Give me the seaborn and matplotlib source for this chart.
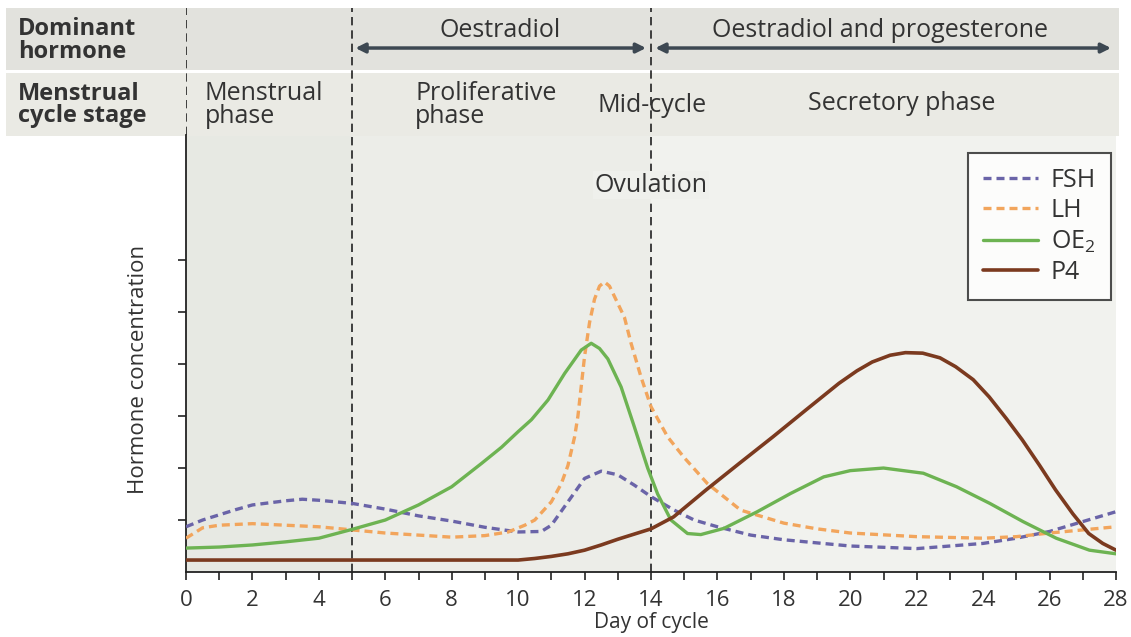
import matplotlib
matplotlib.use("Agg")
import matplotlib.pyplot as plt
import seaborn as sns

# values (day of cycle, relative concentration)
fsh_days = [0, 0.5, 1, 1.5, 2, 3, 3.5, 4, 5, 6, 7, 8, 9, 10, 10.7, 11, 11.5, 12, 12.5,
            13, 13.5, 14, 14.7, 15.3, 16, 17, 18, 20, 22, 24, 25, 26, 27, 28]
fsh_vals = [0.87, 1.0, 1.1, 1.2, 1.29, 1.37, 1.4, 1.38, 1.32, 1.21, 1.08, 0.98, 0.86, 0.77,
            0.78, 0.9, 1.35, 1.8, 1.94, 1.87, 1.67, 1.45, 1.19, 1.0, 0.87, 0.71, 0.62, 0.5,
            0.45, 0.55, 0.65, 0.78, 0.97, 1.16]

lh_days = [0, 0.5, 1, 2, 3, 4, 5, 6, 7, 8, 9, 9.7, 10.2, 10.5, 11, 11.3, 11.5, 11.7, 11.8,
           12, 12.15, 12.3, 12.45, 12.6, 12.75, 12.9, 13.2, 13.4, 13.7, 14, 14.5, 15, 15.7,
           16.7, 18, 19, 20, 22, 24, 25, 26, 27, 28]
lh_vals = [0.65, 0.85, 0.9, 0.93, 0.9, 0.87, 0.81, 0.75, 0.71, 0.67, 0.7, 0.77, 0.9, 1.0,
           1.35, 1.7, 2.05, 2.6, 3.0, 4.15, 4.8, 5.25, 5.5, 5.58, 5.5, 5.3, 4.9, 4.4, 3.75,
           3.18, 2.6, 2.2, 1.7, 1.19, 0.94, 0.83, 0.75, 0.68, 0.65, 0.68, 0.75, 0.81, 0.87]

oe2_days = [0, 1, 2, 3, 4, 5, 6, 7, 8, 8.9, 9.5, 10, 10.4, 10.9, 11.4, 11.9, 12.2, 12.45,
            12.7, 13.1, 13.5, 13.9, 14.2, 14.6, 15.1, 15.5, 16.2, 17.2, 18.2, 19.2, 20, 21,
            22.2, 23.2, 24.2, 25.2, 26.2, 27.2, 28]
oe2_vals = [0.46, 0.48, 0.52, 0.58, 0.65, 0.82, 1.0, 1.29, 1.64, 2.09, 2.4, 2.7, 2.93, 3.31,
            3.82, 4.27, 4.4, 4.3, 4.1, 3.56, 2.79, 2.0, 1.5, 1.0, 0.74, 0.72, 0.84, 1.16,
            1.51, 1.83, 1.95, 2.0, 1.9, 1.64, 1.32, 0.97, 0.65, 0.42, 0.35]

p4_days = [0, 2, 4, 6, 8, 10, 10.5, 11, 11.5, 12, 12.5, 13, 13.5, 14, 14.68, 15.66, 16.66,
           17.67, 18.67, 19.66, 20.2, 20.66, 21.2, 21.66, 22.18, 22.7, 23.17, 23.7, 24.18,
           24.7, 25.18, 25.7, 26.18, 26.7, 27.18, 27.6, 28]
p4_vals = [0.23, 0.23, 0.23, 0.23, 0.23, 0.23, 0.26, 0.3, 0.35, 0.42, 0.52, 0.63, 0.73, 0.83,
           1.06, 1.58, 2.09, 2.6, 3.12, 3.63, 3.87, 4.04, 4.17, 4.22, 4.21, 4.12, 3.95, 3.7,
           3.37, 2.95, 2.54, 2.05, 1.58, 1.12, 0.74, 0.55, 0.42]

day_ticks = list(range(0, 29, 2))
conc_ticks = [1, 2, 3, 4, 5, 6]

sns.set_style("white")
plt.rcParams['font.family'] = ['Open Sans', 'DejaVu Sans']
plt.rcParams['mathtext.fontset'] = 'custom'
plt.rcParams['mathtext.rm'] = 'Open Sans'

txt = '#333333'
hfs = 18  # header / annotation font size
fig = plt.figure(figsize=(11.31, 6.37), dpi=100)
ax = fig.add_axes([186 / 1131, 65 / 637, 930 / 1131, 564 / 637])
ax.set_xlim(0, 28)
ax.set_ylim(0, 10.85)
ax.set_facecolor('white')

# plot background shading
ax.axvspan(0, 5, ymax=8.4 / 10.85, color='#e7e9e3', lw=0, zorder=0)
ax.axvspan(5, 14, ymax=8.4 / 10.85, color='#ecede8', lw=0, zorder=0)
ax.axvspan(14, 28, ymax=8.4 / 10.85, color='#f1f2ee', lw=0, zorder=0)

# header bands
ax.add_patch(plt.Rectangle((-5.42, 9.65), 33.5, 1.2, color='#e2e2dd', lw=0, clip_on=False, zorder=1))
ax.add_patch(plt.Rectangle((-5.42, 8.38), 33.5, 1.22, color='#eaeae4', lw=0, clip_on=False, zorder=1))

sns.lineplot(x=fsh_days, y=fsh_vals, ax=ax, color='#6a64a8', lw=2.4,
             linestyle=(0, (2.4, 1.5)), label='FSH', zorder=4)
sns.lineplot(x=lh_days, y=lh_vals, ax=ax, color='#f2a55c', lw=2.4,
             linestyle=(0, (2.4, 1.5)), label='LH', zorder=4)
sns.lineplot(x=oe2_days, y=oe2_vals, ax=ax, color='#6db352', lw=2.4,
             label='OE$_2$', zorder=5)
sns.lineplot(x=p4_days, y=p4_vals, ax=ax, color='#7b3a1f', lw=2.6,
             label='P4', zorder=5)

# phase boundaries
for d in [5, 14]:
    ax.axvline(d, color='#222222', lw=1.2, linestyle=(0, (5, 3)), zorder=3)
ax.vlines(0, 8.4, 10.85, color='#222222', lw=1.2, linestyle=(0, (5, 3)), zorder=3)

ax.text(14, 7.44, 'Ovulation', ha='center', va='center', fontsize=hfs, color=txt, zorder=6,
        bbox=dict(facecolor='#eff0ec', edgecolor='none', pad=1))

# header text
ax.text(-5.06, 10.23, 'Dominant\nhormone', fontsize=17, fontweight='bold', color=txt,
        ha='left', va='center', linespacing=0.92, zorder=6)
ax.text(-5.06, 8.98, 'Menstrual\ncycle stage', fontsize=17, fontweight='bold', color=txt,
        ha='left', va='center', linespacing=0.92, zorder=6)
ax.text(0.57, 8.98, 'Menstrual\nphase', fontsize=hfs, color=txt, ha='left', va='center',
        linespacing=0.92, zorder=6)
ax.text(6.9, 8.98, 'Proliferative\nphase', fontsize=hfs, color=txt, ha='left', va='center',
        linespacing=0.92, zorder=6)
ax.text(12.4, 8.98, 'Mid-cycle', fontsize=hfs, color=txt, ha='left', va='center', zorder=6)
ax.text(18.73, 9.02, 'Secretory phase', fontsize=hfs, color=txt, ha='left', va='center', zorder=6)
ax.text(9.46, 10.42, 'Oestradiol', fontsize=hfs, color=txt, ha='center', va='center', zorder=6)
ax.text(20.9, 10.42, 'Oestradiol and progesterone', fontsize=hfs, color=txt, ha='center',
        va='center', zorder=6)
arrow = dict(arrowstyle='<|-|>', color='#3d4852', lw=2.5, mutation_scale=14, shrinkA=0, shrinkB=0)
ax.annotate('', xy=(13.85, 10.08), xytext=(5.1, 10.08), arrowprops=arrow, annotation_clip=False, zorder=6)
ax.annotate('', xy=(27.85, 10.08), xytext=(14.13, 10.08), arrowprops=arrow, annotation_clip=False, zorder=6)

# axes styling
for s in ['top', 'right']:
    ax.spines[s].set_visible(False)
ax.spines['left'].set_bounds(0, 8.4)
ax.spines['left'].set_color('#222222')
ax.spines['bottom'].set_color('#222222')
ax.spines['left'].set_linewidth(1.3)
ax.spines['bottom'].set_linewidth(1.3)

ax.set_xticks(day_ticks)
ax.set_xticks(range(0, 29), minor=True)
ax.set_yticks(conc_ticks)
ax.set_yticklabels([])
ax.tick_params(axis='both', which='both', direction='out', length=6, width=1.2,
               color='#222222', left=True, bottom=True)
ax.tick_params(axis='x', labelsize=16, labelcolor=txt, pad=7)

ax.set_xlabel('Day of cycle', fontsize=15, color=txt, labelpad=1)
ax.set_ylabel('Hormone concentration', fontsize=16, color=txt)
ax.yaxis.set_label_coords(-0.04, 3.9 / 10.85)

leg = ax.legend(loc='upper right', bbox_to_anchor=(27.85, 8.07), bbox_transform=ax.transData,
                fontsize=18, frameon=True, fancybox=False, handlelength=2.2,
                labelspacing=0.22, borderpad=0.6, borderaxespad=0, handletextpad=0.5)
leg.get_frame().set_edgecolor('#222222')
leg.get_frame().set_linewidth(1.5)
leg.get_frame().set_facecolor('white')
for t in leg.get_texts():
    t.set_color(txt)
leg.set_zorder(7)

fig.savefig('out.png', dpi=100)
